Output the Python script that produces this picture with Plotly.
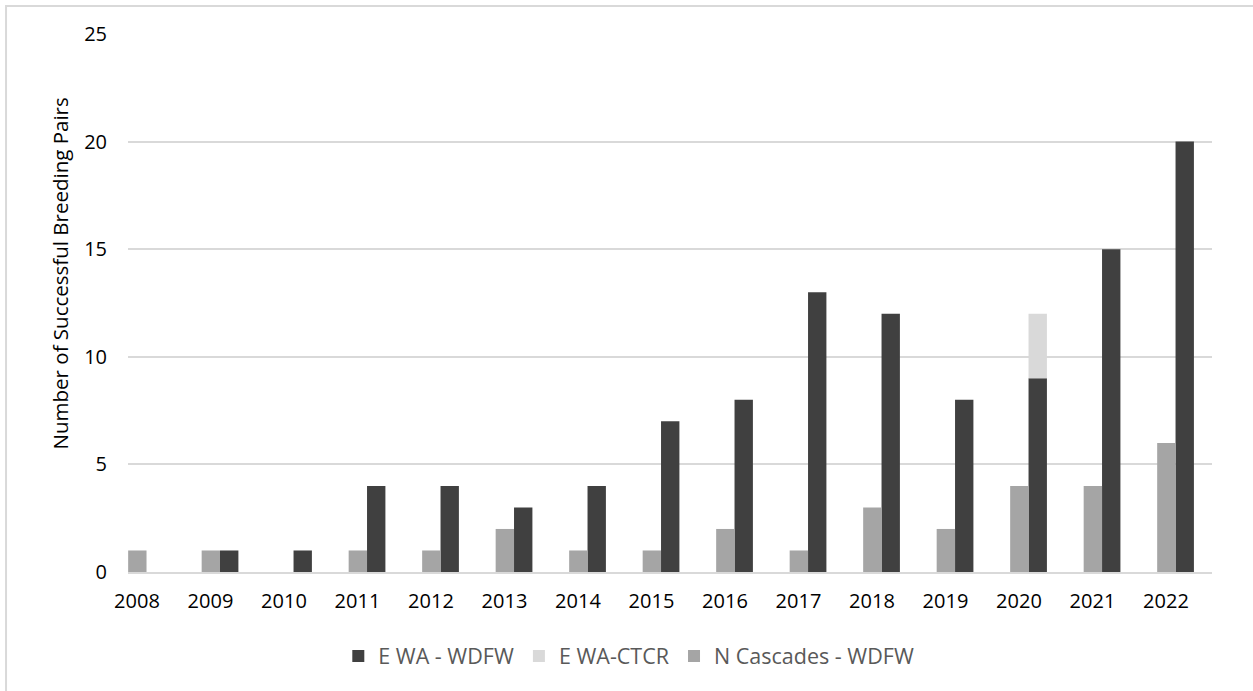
import plotly.graph_objects as go

years = [2008, 2009, 2010, 2011, 2012, 2013, 2014, 2015, 2016, 2017, 2018, 2019, 2020, 2021, 2022]
ewa_wdfw = [0, 1, 1, 4, 4, 3, 4, 7, 8, 13, 12, 8, 9, 15, 20]
ewa_ctcr = [0, 0, 0, 0, 0, 0, 0, 0, 0, 0, 0, 0, 3, 0, 0]
ncasc_wdfw = [1, 1, 0, 1, 1, 2, 1, 1, 2, 1, 3, 2, 4, 4, 6]
y_title = "Number of Successful Breeding Pairs"

FONT = "Open Sans"

fig = go.Figure()
fig.add_trace(go.Bar(x=years, y=ewa_wdfw, name="E WA - WDFW",
                     marker=dict(color="#404040", line=dict(width=0)),
                     offset=0.13, width=0.25))
fig.add_trace(go.Bar(x=years, y=ewa_ctcr, base=ewa_wdfw, name="E WA-CTCR",
                     marker=dict(color="#d9d9d9", line=dict(width=0)),
                     offset=0.13, width=0.25))
fig.add_trace(go.Bar(x=years, y=ncasc_wdfw, name="N Cascades - WDFW",
                     marker=dict(color="#a5a5a5", line=dict(width=0)),
                     offset=-0.12, width=0.25))

fig.update_layout(
    width=1253, height=691,
    margin=dict(l=128, r=41, t=34, b=119),
    barmode="overlay",
    plot_bgcolor="white", paper_bgcolor="white",
    font=dict(family=FONT, size=20, color="#000000"),
    showlegend=True,
    legend=dict(orientation="h", x=0.462, xanchor="center", y=-0.156, yanchor="middle",
                font=dict(family=FONT, size=21.5, color="#595959"),
                traceorder="normal", itemwidth=30),
    shapes=[dict(type="rect", xref="paper", yref="paper",
                 x0=-0.1125, x1=1.2, y0=-0.5, y1=1.052,
                 line=dict(color="#d9d9d9", width=2), fillcolor="rgba(0,0,0,0)",
                 layer="below")],
    annotations=[dict(text=y_title, xref="paper", yref="paper",
                      x=-0.0627, y=0.555, xanchor="center", yanchor="middle",
                      textangle=-90, showarrow=False,
                      font=dict(family=FONT, size=20.5, color="#000000"))],
)
fig.update_xaxes(
    range=[2008 - 0.122, 2022 + 0.626],
    tickmode="array", tickvals=years, ticktext=[str(y) for y in years],
    showgrid=False, zeroline=False, showline=True, linecolor="#d9d9d9", linewidth=1.5,
    ticks="outside", ticklen=10, tickcolor="rgba(0,0,0,0)",
    tickfont=dict(family=FONT, size=20, color="#000000"),
)
fig.update_yaxes(
    range=[0, 25], tickvals=[0, 5, 10, 15, 20, 25],
    showgrid=True, gridcolor="#d9d9d9", gridwidth=1.5, zeroline=False, showline=False,
    ticks="", ticklabelstandoff=20,
    tickfont=dict(family=FONT, size=20, color="#000000"),
)

fig.write_html("out.html")
